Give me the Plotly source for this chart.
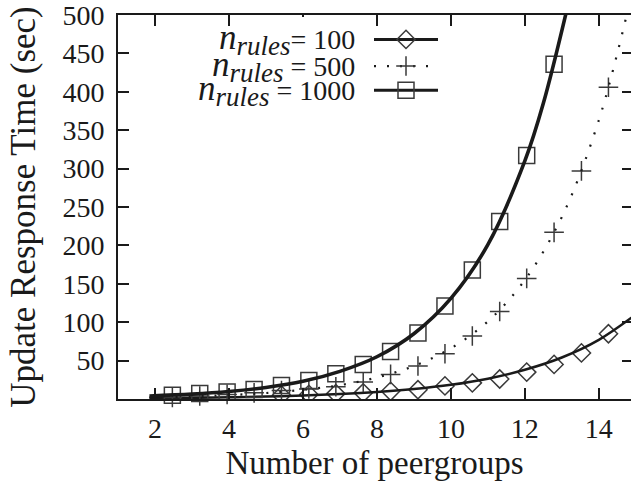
import plotly.graph_objects as go

# Measured update response times (sec) per number of peergroups
sq_x = [2.47, 3.21, 3.95, 4.68, 5.42, 6.16, 6.89, 7.63, 8.37, 9.11, 9.84, 10.58, 11.32, 12.05, 12.79]
sq_y = [5, 7, 9, 12.5, 17.5, 24, 33, 45, 62, 86, 121, 168, 231, 317, 436]          # n_rules = 1000

plus_x = [2.47, 3.21, 3.95, 4.68, 5.42, 6.16, 6.89, 7.63, 8.37, 9.11, 9.84, 10.58, 11.32, 12.05, 12.79, 13.53, 14.26]
plus_y = [2, 4, 6, 8, 11, 13, 16, 22, 32, 43, 59, 82, 114, 157, 217, 297, 406]      # n_rules = 500

dia_x = [5.42, 6.16, 6.89, 7.63, 8.37, 9.11, 9.84, 10.58, 11.32, 12.05, 12.79, 13.53, 14.26, 15.0]
dia_y = [5, 6, 7, 8, 10, 12, 17, 21, 26, 35, 45, 60, 85, 110]                        # n_rules = 100

# Fitted trend curves
fit1000_x = [1.85, 3, 4, 5, 6, 7, 8, 9, 10, 11, 12, 12.5, 13.2]
fit1000_y = [4, 6.4, 9.8, 15, 23, 36, 55, 85, 131, 201, 310, 385, 520]
fit500_x = [1.85, 3, 4, 5, 6, 7, 8, 9, 10, 11, 12, 13, 14, 14.9]
fit500_y = [2, 3.3, 5.1, 7.8, 12, 18, 28, 43, 66, 101, 155, 237, 363, 530]
fit100_x = [1.85, 3, 4, 5, 6, 7, 8, 9, 10, 11, 12, 13, 14, 15]
fit100_y = [1, 1.5, 2.2, 3.1, 4.5, 6.4, 9.1, 13, 18.5, 26.5, 38, 54, 77, 110]

x_ticks = [2, 4, 6, 8, 10, 12, 14]
y_ticks = [50, 100, 150, 200, 250, 300, 350, 400, 450, 500]

N_RULES = ('<span style="font-size:35px"><i>n</i></span>'
           '<sub><span style="font-size:27px"><i>rules</i></span></sub>')
legend_labels = [
    N_RULES + "= 100",
    N_RULES + " = 500",
    N_RULES + " = 1000",
]

INK = "#1a1a1a"
MARK = "#3a3a3a"
FONT = "Liberation Serif"
W, H = 631, 482
L, T, B = 118, 14.5, 82.5
plot_h = H - T - B
DOTS = "2px,11px"

fig = go.Figure()

# n_rules = 100
fig.add_trace(go.Scatter(x=dia_x, y=dia_y, mode="markers", cliponaxis=True,
                         marker=dict(symbol="diamond-open", size=14, color=MARK, line=dict(width=1.5, color=MARK))))
fig.add_trace(go.Scatter(x=fit100_x, y=fit100_y, mode="lines", line=dict(color=INK, width=2.5, shape="spline")))
# n_rules = 500
fig.add_trace(go.Scatter(x=plus_x, y=plus_y, mode="markers", cliponaxis=False,
                         marker=dict(symbol="cross-thin-open", size=14, color=MARK, line=dict(width=1.5, color=MARK))))
fig.add_trace(go.Scatter(x=fit500_x, y=fit500_y, mode="lines", line=dict(color=INK, width=2.2, dash=DOTS, shape="spline")))
# n_rules = 1000
fig.add_trace(go.Scatter(x=sq_x, y=sq_y, mode="markers", cliponaxis=False,
                         marker=dict(symbol="square-open", size=16, color=MARK, line=dict(width=1.5, color=MARK))))
fig.add_trace(go.Scatter(x=fit1000_x, y=fit1000_y, mode="lines", line=dict(color=INK, width=3.6, shape="spline")))

# Key samples, drawn on their own small axes
def py_to_paper(py):
    return (H - B - py) / plot_h

def px_to_xpaper(px):
    return (px - L) / (W - L)

rows = [py_to_paper(39), py_to_paper(65.7), py_to_paper(90)]
key_styles = [
    (dict(color=INK, width=3), dict(symbol="diamond-open", size=14, color=MARK, line=dict(width=1.5, color=MARK))),
    (dict(color=INK, width=2.2, dash=DOTS), dict(symbol="cross-thin-open", size=14, color=MARK, line=dict(width=1.5, color=MARK))),
    (dict(color=INK, width=3), dict(symbol="square-open", size=16, color=MARK, line=dict(width=1.5, color=MARK))),
]
for yrow, (ln, mk) in zip(rows, key_styles):
    fig.add_trace(go.Scatter(x=[0, 1], y=[yrow, yrow], mode="lines", line=ln,
                             xaxis="x3", yaxis="y3", cliponaxis=False))
    fig.add_trace(go.Scatter(x=[0.5], y=[yrow], mode="markers", marker=mk,
                             xaxis="x3", yaxis="y3", cliponaxis=False))

annotations = []
for yrow, txt in zip(rows, legend_labels):
    annotations.append(dict(text=txt, xref="paper", yref="paper", x=px_to_xpaper(357), y=yrow,
                            xanchor="right", yanchor="middle", showarrow=False,
                            font=dict(family=FONT, size=28, color=INK)))

axis_common = dict(showgrid=False, zeroline=False, ticks="inside", ticklen=11, tickwidth=2,
                   tickcolor=INK, linecolor=INK, linewidth=2, ticklabeloverflow="allow",
                   tickfont=dict(family=FONT, size=28, color=INK))

fig.update_layout(
    width=W, height=H,
    margin=dict(l=L, r=0, t=T, b=B, pad=0),
    paper_bgcolor="white", plot_bgcolor="rgba(0,0,0,0)",
    showlegend=False,
    xaxis=dict(range=[1, 14.87], tickvals=x_ticks, showline=True, mirror="ticks",
               ticklabelstandoff=3,
               title=dict(text="Number of peergroups", standoff=8,
                          font=dict(family=FONT, size=33, color=INK)),
               **axis_common),
    yaxis=dict(range=[0, 500], tickvals=y_ticks, showline=True, mirror=False,
               ticklabelstandoff=6,
               title=dict(text="Update Response Time (sec)", standoff=16,
                          font=dict(family=FONT, size=35, color=INK)),
               **axis_common),
    yaxis2=dict(range=[0, 500], tickvals=y_ticks, overlaying="y", side="right", anchor="x",
                showticklabels=False, showline=False, showgrid=False, zeroline=False,
                ticks="inside", ticklen=9, tickwidth=2, tickcolor=INK),
    xaxis3=dict(domain=[px_to_xpaper(374), px_to_xpaper(438)], range=[0, 1], visible=False,
                anchor="y3"),
    yaxis3=dict(domain=[0, 1], range=[0, 1], visible=False, anchor="x3"),
    shapes=[dict(type="rect", xref="paper", yref="paper", layer="above",
                 x0=px_to_xpaper(245), x1=px_to_xpaper(360),
                 y0=py_to_paper(100), y1=py_to_paper(16.5),
                 fillcolor="white", line=dict(width=0))],
    annotations=annotations,
)
# keep the right-hand tick axis alive with an empty trace
fig.add_trace(go.Scatter(x=[], y=[], yaxis="y2", showlegend=False))

fig.write_html("out.html")
